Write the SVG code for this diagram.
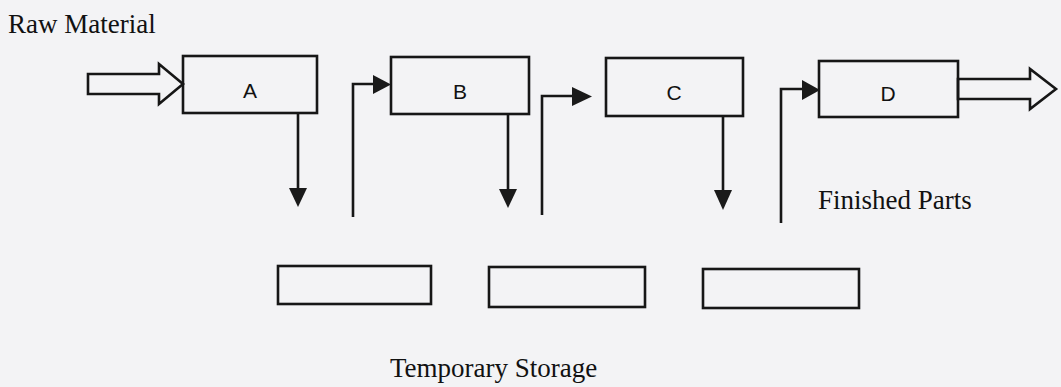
<svg xmlns="http://www.w3.org/2000/svg" width="1061" height="387" viewBox="0 0 1061 387">
<style>
.box{fill:none;stroke:#161616;stroke-width:2.6}
.ln{fill:none;stroke:#161616;stroke-width:2.6}
.head{fill:#1a1a1a;stroke:none}
.hollow{fill:none;stroke:#161616;stroke-width:2.6;stroke-linejoin:miter}
.lbl{font-family:"Liberation Sans",Arial,sans-serif;font-size:21px;fill:#111;text-anchor:middle}
.cap{font-family:"Liberation Serif","Times New Roman",serif;font-size:27px;fill:#111}
</style>
<rect x="0" y="0" width="1061" height="387" fill="#f3f3f5"/>
<text class="cap" x="8" y="33">Raw Material</text>
<text class="cap" x="818" y="209">Finished Parts</text>
<text class="cap" x="390" y="377">Temporary Storage</text>
<g id="nodeA"><rect class="box" x="183" y="56" width="134" height="57"/><text class="lbl" x="250" y="98">A</text></g>
<g id="nodeB"><rect class="box" x="391" y="57" width="138" height="57"/><text class="lbl" x="460" y="99">B</text></g>
<g id="nodeC"><rect class="box" x="606" y="58" width="137" height="58"/><text class="lbl" x="674" y="100">C</text></g>
<g id="nodeD"><rect class="box" x="819" y="61" width="139" height="56"/><text class="lbl" x="888" y="101">D</text></g>
<g id="storage1"><rect class="box" x="278" y="266" width="153" height="38"/></g>
<g id="storage2"><rect class="box" x="489" y="267" width="156" height="40"/></g>
<g id="storage3"><rect class="box" x="703" y="269" width="156" height="39"/></g>
<g id="connectors">
<polygon class="hollow" points="88,74 159,74 159,64 183,84 159,104 159,94 88,94"/>
<polygon class="hollow" points="958,79 1030,79 1030,69 1056,89 1030,109 1030,99 958,99"/>
<line class="ln" x1="298" y1="113" x2="298" y2="190"/>
<polygon class="head" points="289,188 307,188 298,207"/>
<line class="ln" x1="508" y1="114" x2="508" y2="191"/>
<polygon class="head" points="499,189 517,189 508,208"/>
<line class="ln" x1="723" y1="116" x2="723" y2="192"/>
<polygon class="head" points="714,190 732,190 723,210"/>
<polyline class="ln" points="353,217 353,84 375,84"/>
<polygon class="head" points="373,75 373,94 391,84.5"/>
<polyline class="ln" points="542,215 542,96 574,96"/>
<polygon class="head" points="572,87 572,106 592,96.5"/>
<polyline class="ln" points="781,223 781,89 804,89"/>
<polygon class="head" points="802,80 802,100 820,90"/>
</g>
</svg>
